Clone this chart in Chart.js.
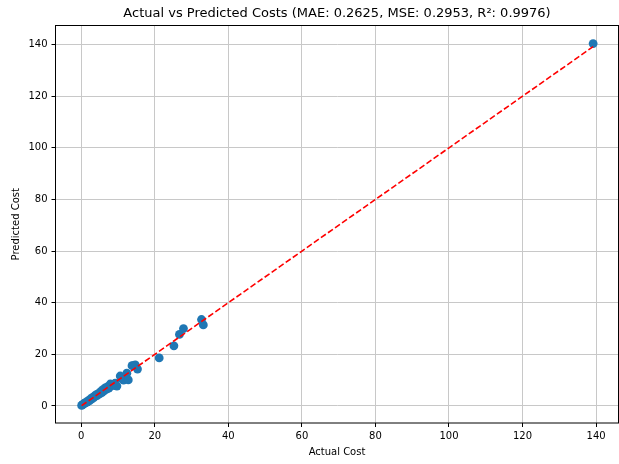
<!DOCTYPE html>
<html>
<head>
<meta charset="utf-8">
<title>Actual vs Predicted Costs</title>
<script src="https://cdn.jsdelivr.net/npm/chart.js@4.4.1/dist/chart.umd.min.js"></script>
<style>
    html, body { margin: 0; padding: 0; background: #fff; overflow: hidden; }
    canvas { display: block; }
</style>
</head>
<body>
<canvas id="costChart" width="619" height="464"></canvas>
<script>
// Test-set costs: actual vs model prediction
const actualCost = [
    0.1, 0.3, 0.5, 0.8, 1.0, 1.3, 1.6, 1.9, 2.2, 2.5,
    2.8, 3.1, 3.4, 3.7, 4.0, 4.3, 4.6, 5.0, 5.3, 5.6,
    5.9, 6.2, 6.5, 6.9, 7.2, 7.5, 7.9, 8.2, 8.6, 9.0,
    9.2, 9.7, 10.6, 11.0, 11.5, 12.4, 12.8, 13.8, 14.2, 14.7,
    15.3, 21.2, 25.2, 26.7, 27.8, 32.7, 33.2, 139.2
];
const predictedCost = [
    0.2, 0.4, 0.6, 0.9, 1.2, 1.4, 1.5, 2.1, 2.0, 2.7,
    2.6, 3.3, 3.2, 3.9, 4.3, 4.0, 4.8, 4.7, 5.6, 5.2,
    6.3, 5.8, 7.0, 6.5, 7.5, 6.9, 8.5, 7.8, 8.3, 8.0,
    8.8, 7.7, 11.6, 10.7, 10.0, 12.7, 10.1, 15.6, 15.6, 15.9,
    14.3, 18.6, 23.3, 27.7, 30.0, 33.5, 31.4, 140.4
];

const xTicks = [0, 20, 40, 60, 80, 100, 120, 140];
const yTicks = [0, 20, 40, 60, 80, 100, 120, 140];

const titleText = 'Actual vs Predicted Costs (MAE: 0.2625, MSE: 0.2953, R\u00b2: 0.9976)';

// Perfect-prediction reference from min to max actual cost
const lo = Math.min(...actualCost);
const hi = Math.max(...actualCost);
const idealLine = [{ x: lo, y: lo }, { x: hi, y: hi }];

const FONT = "'DejaVu Sans', sans-serif";

// black frame round the plot area + title centred over the axes
const frameBox = {
    id: 'frameBox',
    afterDraw(chart) {
        const { ctx, chartArea: a } = chart;
        ctx.save();
        ctx.strokeStyle = '#000';
        ctx.lineWidth = 1;
        ctx.strokeRect(a.left, a.top, a.right - a.left, a.bottom - a.top);
        ctx.fillStyle = '#000';
        ctx.font = '13px ' + FONT;
        ctx.textAlign = 'center';
        ctx.textBaseline = 'middle';
        ctx.fillText(titleText, (a.left + a.right) / 2, 14);
        ctx.restore();
    }
};

function fixedTicks(list) {
    return function (scale) {
        scale.ticks = list.map(v => ({ value: v }));
    };
}

new Chart(document.getElementById('costChart'), {
    type: 'scatter',
    data: {
        datasets: [
            {
                label: 'ideal',
                data: idealLine,
                showLine: true,
                borderColor: '#ff0000',
                borderWidth: 1.6,
                borderDash: [6, 2.6],
                pointRadius: 0,
                fill: false,
                order: 0
            },
            {
                label: 'predictions',
                data: actualCost.map((v, i) => ({ x: v, y: predictedCost[i] })),
                backgroundColor: '#1f77b4',
                borderColor: '#1f77b4',
                borderWidth: 0,
                pointRadius: 4.4,
                order: 1
            }
        ]
    },
    options: {
        responsive: false,
        animation: false,
        layout: { autoPadding: false, padding: { left: 0, right: 0.5, top: 25.5, bottom: 0 } },
        plugins: {
            legend: { display: false },
            tooltip: { enabled: false },
            title: { display: false }
        },
        scales: {
            x: {
                type: 'linear',
                min: -7.0,
                max: 146.1,
                afterBuildTicks: fixedTicks(xTicks),
                afterFit(scale) {
                    scale.height = 41;
                    scale.paddingLeft = 0;
                    scale.paddingRight = 0;
                },
                grid: { color: '#c8c8c8', lineWidth: 1, tickLength: 4, tickColor: '#000' },
                border: { display: false },
                ticks: { color: '#000', font: { family: FONT, size: 10 }, padding: 3, maxRotation: 0 },
                title: {
                    display: true,
                    text: 'Actual Cost',
                    color: '#000',
                    font: { family: FONT, size: 10 },
                    padding: { top: 0, bottom: 6 }
                }
            },
            y: {
                type: 'linear',
                min: -6.6,
                max: 147.4,
                afterBuildTicks: fixedTicks(yTicks),
                afterFit(scale) {
                    scale.width = 55.5;
                    scale.paddingTop = 0;
                    scale.paddingBottom = 0;
                },
                grid: { color: '#c8c8c8', lineWidth: 1, tickLength: 4, tickColor: '#000' },
                border: { display: false },
                ticks: { color: '#000', font: { family: FONT, size: 10 }, padding: 4 },
                title: {
                    display: true,
                    text: 'Predicted Cost',
                    color: '#000',
                    font: { family: FONT, size: 10 },
                    padding: { top: 10, bottom: 0 }
                }
            }
        }
    },
    plugins: [frameBox]
});
</script>
</body>
</html>
